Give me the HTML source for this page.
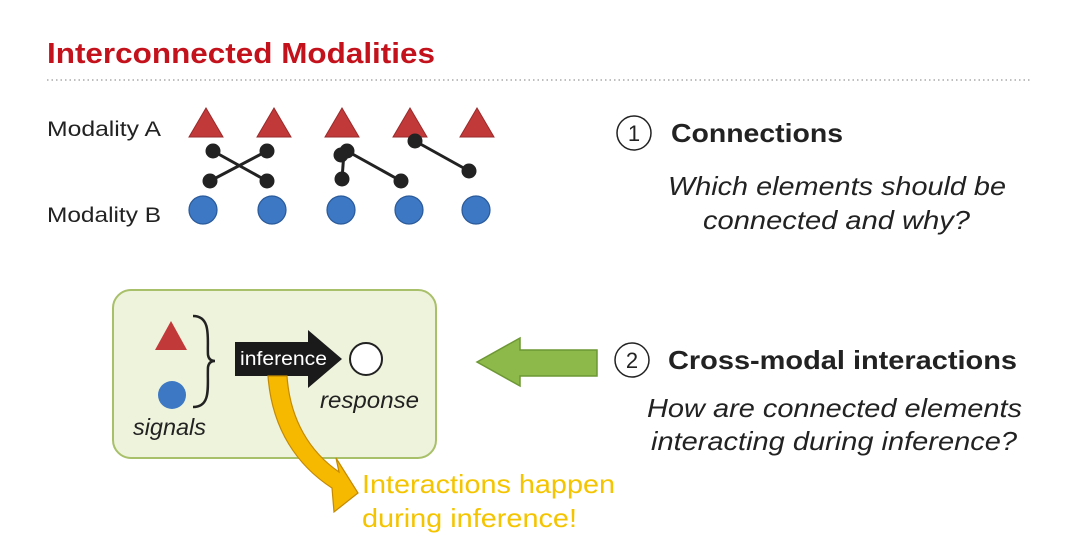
<!DOCTYPE html>
<html><head><meta charset="utf-8"><style>html,body{margin:0;padding:0;background:#fff}</style></head>
<body>
<svg width="1080" height="539" viewBox="0 0 1080 539" xmlns="http://www.w3.org/2000/svg" font-family="Liberation Sans, sans-serif">
<text x="47" y="63" font-size="29" font-weight="bold" fill="#c4121c" textLength="388" lengthAdjust="spacingAndGlyphs">Interconnected Modalities</text>
<line x1="47" y1="80" x2="1030" y2="80" stroke="#999" stroke-width="1.2" stroke-dasharray="1.5,3"/>
<text x="47" y="136" font-size="21" fill="#222" textLength="114" lengthAdjust="spacingAndGlyphs">Modality A</text>
<text x="47" y="222" font-size="21" fill="#222" textLength="114" lengthAdjust="spacingAndGlyphs">Modality B</text>
<g fill="#c2393a" stroke="#9a2a2a" stroke-width="1">
<polygon points="206,108 189,137 223,137"/><polygon points="274,108 257,137 291,137"/><polygon points="342,108 325,137 359,137"/><polygon points="410,108 393,137 427,137"/><polygon points="477,108 460,137 494,137"/>
</g>
<g fill="#3d78c4" stroke="#2a5a9a" stroke-width="1.2">
<circle cx="203" cy="210" r="14"/><circle cx="272" cy="210" r="14"/><circle cx="341" cy="210" r="14"/><circle cx="409" cy="210" r="14"/><circle cx="476" cy="210" r="14"/>
</g>
<g stroke="#222" stroke-width="3" fill="#222">
<line x1="213" y1="151" x2="267" y2="181"/><line x1="267" y1="151" x2="210" y2="181"/>
<line x1="344" y1="152" x2="342" y2="179"/><line x1="347" y1="151" x2="401" y2="181"/>
<line x1="415" y1="141" x2="469" y2="171"/>
<circle cx="213" cy="151" r="6"/><circle cx="267" cy="151" r="6"/><circle cx="210" cy="181" r="6"/><circle cx="267" cy="181" r="6"/>
<circle cx="347" cy="151" r="6"/><circle cx="341" cy="155" r="6"/><circle cx="342" cy="179" r="6"/><circle cx="401" cy="181" r="6"/>
<circle cx="415" cy="141" r="6"/><circle cx="469" cy="171" r="6"/>
</g>
<circle cx="634" cy="133" r="17" fill="none" stroke="#222" stroke-width="1.5"/>
<text x="634" y="141" font-size="22" text-anchor="middle" fill="#222">1</text>
<text x="671" y="142" font-size="26" font-weight="bold" fill="#222" textLength="172" lengthAdjust="spacingAndGlyphs">Connections</text>
<text x="668" y="195" font-size="26" font-style="italic" fill="#222" textLength="338" lengthAdjust="spacingAndGlyphs">Which elements should be</text>
<text x="703" y="229" font-size="26" font-style="italic" fill="#222" textLength="267" lengthAdjust="spacingAndGlyphs">connected and why?</text>
<rect x="113" y="290" width="323" height="168" rx="18" fill="#eef3dc" stroke="#a9c06a" stroke-width="2"/>
<polygon points="171,321 155,350 187,350" fill="#c2393a"/>
<circle cx="172" cy="395" r="14" fill="#3d78c4"/>
<path d="M193,316 C212,316 207,340 208,355 Q209,361 215,361 Q209,361 208,367 C207,385 212,407 193,407" fill="none" stroke="#222" stroke-width="2.5"/>
<polygon points="235,342 308,342 308,330 342,359 308,388 308,376 235,376" fill="#1a1a1a"/>
<text x="240" y="365" font-size="19" fill="#fff" textLength="87" lengthAdjust="spacingAndGlyphs">inference</text>
<circle cx="366" cy="359" r="16" fill="#fff" stroke="#222" stroke-width="2"/>
<text x="320" y="408" font-size="23" font-style="italic" fill="#222" textLength="99" lengthAdjust="spacingAndGlyphs">response</text>
<text x="133" y="435" font-size="23" font-style="italic" fill="#222" textLength="73" lengthAdjust="spacingAndGlyphs">signals</text>
<path d="M268,376 C272,430 298,466 332,488 L334,512 L358,493 L336,458 L339,472 C310,452 290,420 287,376 Z" fill="#f7b800" stroke="#c48a00" stroke-width="1.2"/>
<text x="362" y="493" font-size="26" fill="#f5c400" textLength="253" lengthAdjust="spacingAndGlyphs">Interactions happen</text>
<text x="362" y="527" font-size="26" fill="#f5c400" textLength="215" lengthAdjust="spacingAndGlyphs">during inference!</text>
<polygon points="477,362 520,338 520,350 597,350 597,376 520,376 520,386" fill="#8db84a" stroke="#6d9834" stroke-width="1.5"/>
<circle cx="632" cy="360" r="17" fill="none" stroke="#222" stroke-width="1.5"/>
<text x="632" y="368" font-size="22" text-anchor="middle" fill="#222">2</text>
<text x="668" y="369" font-size="26" font-weight="bold" fill="#222" textLength="349" lengthAdjust="spacingAndGlyphs">Cross-modal interactions</text>
<text x="647" y="417" font-size="26" font-style="italic" fill="#222" textLength="375" lengthAdjust="spacingAndGlyphs">How are connected elements</text>
<text x="651" y="450" font-size="26" font-style="italic" fill="#222" textLength="366" lengthAdjust="spacingAndGlyphs">interacting during inference?</text>
</svg>
</body></html>
